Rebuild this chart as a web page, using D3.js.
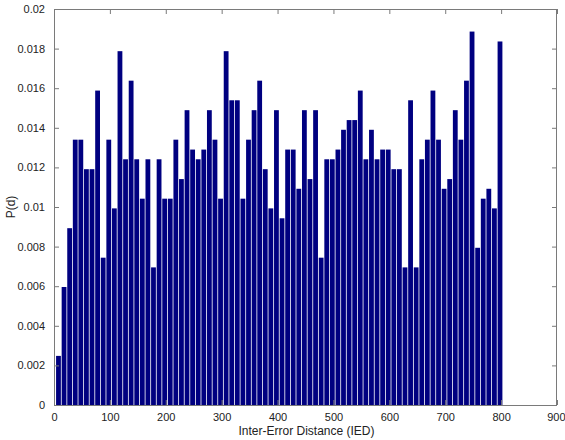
<!DOCTYPE html>
<html>
<head>
<meta charset="utf-8">
<script src="https://cdn.jsdelivr.net/npm/d3@7"></script>
<style>
  html, body { margin: 0; padding: 0; background: #fff; }
  svg { display: block; }
  text { font-family: "Liberation Sans", Arial, sans-serif; }
</style>
</head>
<body>
<svg id="chart" width="565" height="440"></svg>
<script>
// Bin centers (Inter-Error Distance) and probabilities P(d)
const binCenters = d3.range(80).map(i => 8 + 10 * i);
const probabilities = [
  0.00248, 0.00596, 0.00893, 0.01340, 0.01340, 0.01191, 0.01191, 0.01588, 0.00744, 0.01340,
  0.00993, 0.01787, 0.01241, 0.01638, 0.01241, 0.01042, 0.01241, 0.00695, 0.01241, 0.01042,
  0.01042, 0.01340, 0.01141, 0.01489, 0.01290, 0.01241, 0.01290, 0.01489, 0.01340, 0.01042,
  0.01787, 0.01539, 0.01539, 0.01042, 0.01340, 0.01489, 0.01638, 0.01191, 0.00993, 0.01489,
  0.00943, 0.01290, 0.01290, 0.01092, 0.01489, 0.01141, 0.01489, 0.00744, 0.01241, 0.01241,
  0.01290, 0.01390, 0.01439, 0.01439, 0.01588, 0.01241, 0.01390, 0.01241, 0.01290, 0.01290,
  0.01191, 0.01191, 0.00695, 0.01539, 0.00695, 0.01241, 0.01340, 0.01588, 0.01340, 0.01092,
  0.01141, 0.01489, 0.01340, 0.01638, 0.01886, 0.00794, 0.01042, 0.01092, 0.00993, 0.01836
];
const binWidth = 10;
const xTicks = [0, 100, 200, 300, 400, 500, 600, 700, 800, 900];
const yTicks = [0, 0.002, 0.004, 0.006, 0.008, 0.01, 0.012, 0.014, 0.016, 0.018, 0.02];
const xTitle = "Inter-Error Distance (IED)";
const yTitle = "P(d)";

const svg = d3.select("#chart");
const W = 565, H = 440;
const m = { left: 54, right: 8, top: 9, bottom: 35 };
const iw = W - m.left - m.right, ih = H - m.top - m.bottom;

const x = d3.scaleLinear().domain([0, 900]).range([m.left, m.left + iw]);
const y = d3.scaleLinear().domain([0, 0.02]).range([m.top + ih, m.top]);

const axisColor = "#7a7a7a";
const textColor = "#222";

// bars
const barFrac = 0.86;
svg.append("g").selectAll("rect")
  .data(binCenters.map((c, i) => ({ c, v: probabilities[i] })))
  .join("rect")
  .attr("x", d => x(d.c - binWidth * barFrac / 2))
  .attr("width", d => x(d.c + binWidth * barFrac / 2) - x(d.c - binWidth * barFrac / 2))
  .attr("y", d => y(d.v))
  .attr("height", d => y(0) - y(d.v))
  .attr("fill", "#000080");

// box
svg.append("rect")
  .attr("x", m.left + 0.5).attr("y", m.top + 0.5)
  .attr("width", iw - 1).attr("height", ih)
  .attr("fill", "none").attr("stroke", axisColor).attr("stroke-width", 1);

const fmtY = d => d === 0 ? "0" : String(+d.toFixed(3));

// bottom axis (inward ticks)
const xb = svg.append("g").attr("transform", `translate(0,${m.top + ih})`)
  .call(d3.axisBottom(x).tickValues(xTicks).tickSizeInner(-5).tickSizeOuter(0).tickPadding(9).tickFormat(d3.format("d")));
// top ticks
const xt = svg.append("g").attr("transform", `translate(0,${m.top})`)
  .call(d3.axisTop(x).tickValues(xTicks).tickSizeInner(-5).tickSizeOuter(0).tickFormat(""));
// left axis
const yl = svg.append("g").attr("transform", `translate(${m.left},0)`)
  .call(d3.axisLeft(y).tickValues(yTicks).tickSizeInner(-5).tickSizeOuter(0).tickPadding(9).tickFormat(fmtY));
// right ticks
const yr = svg.append("g").attr("transform", `translate(${m.left + iw},0)`)
  .call(d3.axisRight(y).tickValues(yTicks).tickSizeInner(-5).tickSizeOuter(0).tickFormat(""));

[xb, xt, yl, yr].forEach(g => {
  g.select(".domain").remove();
  g.selectAll(".tick line").attr("stroke", axisColor);
  g.selectAll("text").attr("fill", textColor).attr("font-size", 11)
    .style("font-family", "'Liberation Sans', Arial, sans-serif");
});
xb.selectAll("text").attr("dy", "0.6em");
// keep the last label inside the window
xb.selectAll(".tick").filter(d => d === 900).select("text").attr("text-anchor", "end").attr("x", 8);

// titles
svg.append("text")
  .attr("x", m.left + iw / 2 + 1).attr("y", 435)
  .attr("text-anchor", "middle").attr("font-size", 12).attr("fill", textColor)
  .text(xTitle);
svg.append("text")
  .attr("transform", `translate(15,${m.top + ih / 2}) rotate(-90)`)
  .attr("text-anchor", "middle").attr("font-size", 12).attr("fill", textColor)
  .text(yTitle);
</script>
</body>
</html>
